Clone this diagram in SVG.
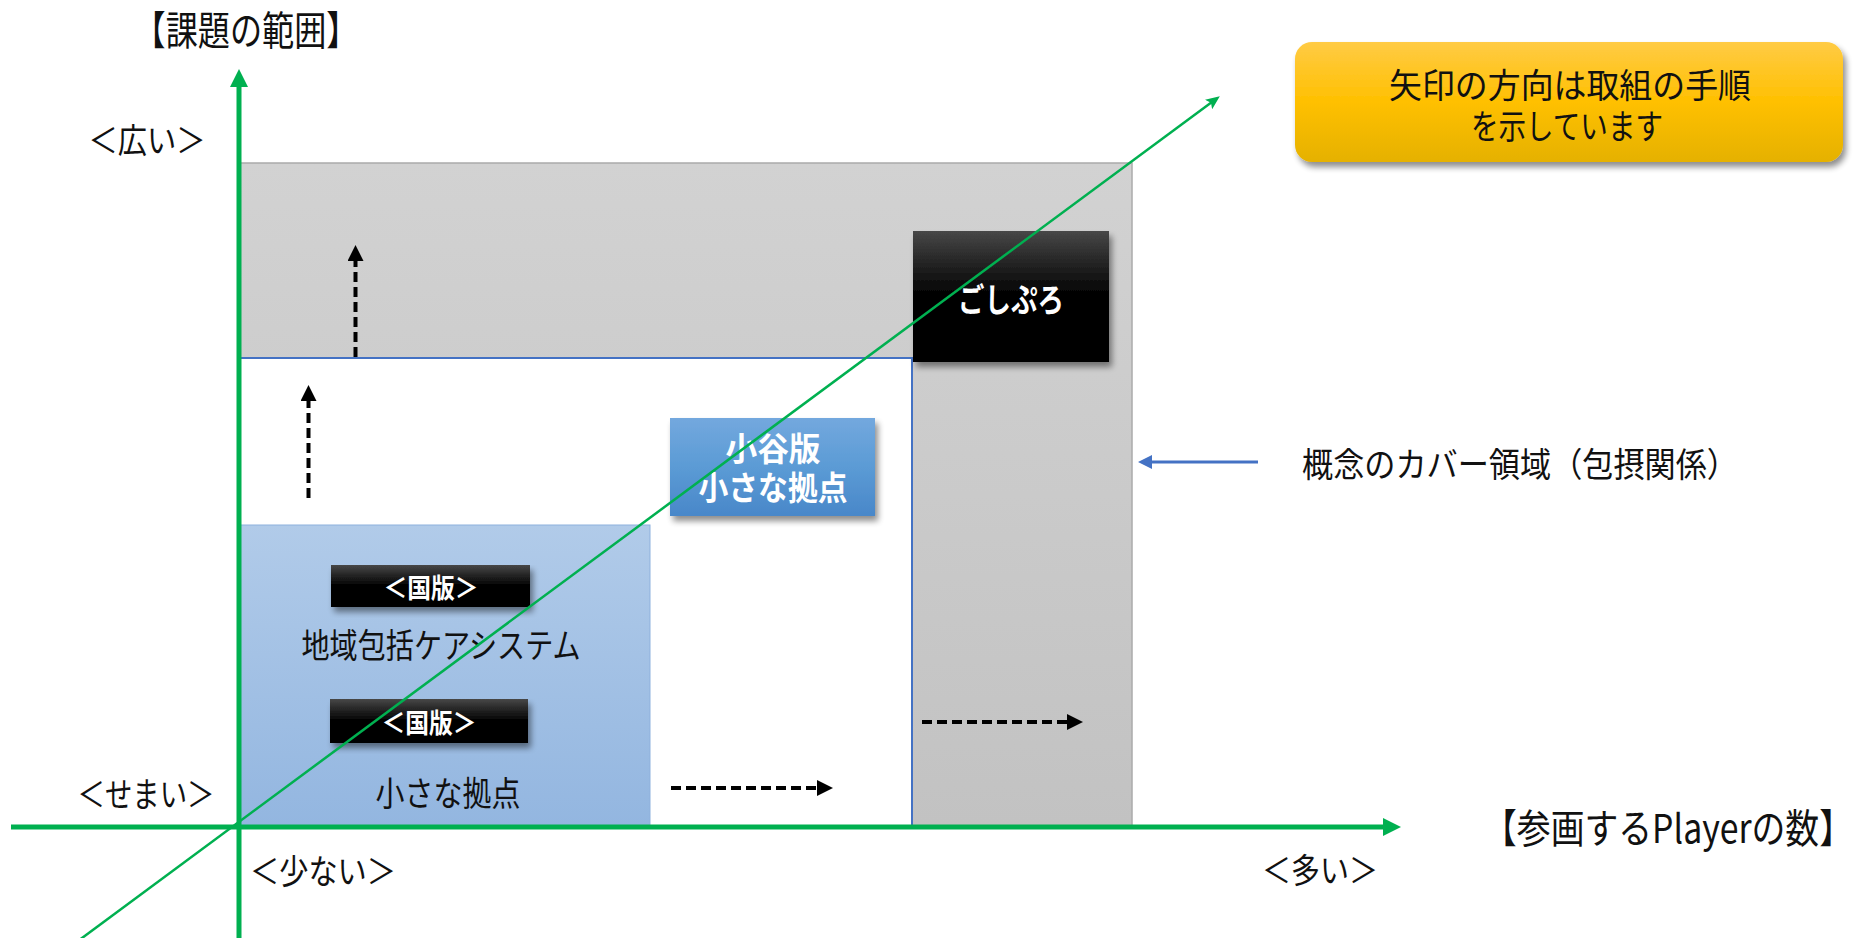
<svg xmlns="http://www.w3.org/2000/svg" width="1875" height="938" viewBox="0 0 1875 938">
  <style>
    text { font-family: "Noto Sans CJK JP", "Noto Sans", sans-serif; dominant-baseline: central; text-anchor: middle; }
    .lbl { fill: #111111; font-size: 34px; }
    .big { fill: #111111; font-size: 40px; }
    .wb { fill: #ffffff; font-weight: 700; }
    .axis { stroke: #00B050; stroke-width: 5; fill: none; }
    .diag { stroke: #00B050; stroke-width: 2.5; fill: none; }
    .dash { stroke: #000000; stroke-width: 4; stroke-dasharray: 10 5; fill: none; }
    .blue { stroke: #4472C4; stroke-width: 3; fill: none; }
  </style>
  <defs>
    <linearGradient id="gGray" x1="0" y1="0" x2="0" y2="1">
      <stop offset="0" stop-color="#D2D2D2"/>
      <stop offset="1" stop-color="#C2C2C2"/>
    </linearGradient>
    <linearGradient id="gLight" x1="0" y1="0" x2="0" y2="1">
      <stop offset="0" stop-color="#B1CBE9"/>
      <stop offset="1" stop-color="#93B6E0"/>
    </linearGradient>
    <linearGradient id="gBlack" x1="0" y1="0" x2="0" y2="1">
      <stop offset="0" stop-color="#474747"/>
      <stop offset="0.5" stop-color="#000000"/>
      <stop offset="1" stop-color="#000000"/>
    </linearGradient>
    <linearGradient id="gBlue" x1="0" y1="0" x2="0" y2="1">
      <stop offset="0" stop-color="#73A8DE"/>
      <stop offset="0.5" stop-color="#5B9BD5"/>
      <stop offset="1" stop-color="#4987C9"/>
    </linearGradient>
    <linearGradient id="gGold" x1="0" y1="0" x2="0" y2="1">
      <stop offset="0" stop-color="#FFCB45"/>
      <stop offset="0.5" stop-color="#FFC000"/>
      <stop offset="1" stop-color="#E5B100"/>
    </linearGradient>
    <filter id="shadow" x="-10%" y="-10%" width="125%" height="135%">
      <feGaussianBlur in="SourceAlpha" stdDeviation="3"/>
      <feOffset dx="3" dy="5" result="b"/>
      <feComponentTransfer><feFuncA type="linear" slope="0.45"/></feComponentTransfer>
      <feMerge><feMergeNode/><feMergeNode in="SourceGraphic"/></feMerge>
    </filter>
    <marker id="mAxis" viewBox="0 0 18 18" refX="8" refY="9" markerWidth="18" markerHeight="18" markerUnits="userSpaceOnUse" orient="auto">
      <path d="M0,0 L18,9 L0,18 z" fill="#00B050"/>
    </marker>
    <marker id="mDiag" viewBox="0 0 14 12" refX="8" refY="6" markerWidth="14" markerHeight="12" markerUnits="userSpaceOnUse" orient="auto">
      <path d="M0,0 L14,6 L0,12 L3,6 z" fill="#00B050"/>
    </marker>
    <marker id="mDash" viewBox="0 0 16 16" refX="6" refY="8" markerWidth="16" markerHeight="16" markerUnits="userSpaceOnUse" orient="auto">
      <path d="M0,0 L16,8 L0,16 z" fill="#000000"/>
    </marker>
    <marker id="mBlue" viewBox="0 0 14 14" refX="6" refY="7" markerWidth="14" markerHeight="14" markerUnits="userSpaceOnUse" orient="auto">
      <path d="M0,0 L14,7 L0,14 z" fill="#4472C4"/>
    </marker>
  </defs>

  <rect width="1875" height="938" fill="#ffffff"/>

  <g id="area-gray">
    <rect x="239" y="163" width="893" height="663" fill="url(#gGray)" stroke="#ABABAB" stroke-width="1.5"/>
  </g>
  <g id="area-white">
    <rect x="239" y="358" width="673" height="468" fill="#ffffff" stroke="#4472C4" stroke-width="2"/>
  </g>
  <g id="area-lightblue">
    <rect x="239" y="525" width="411" height="301" fill="url(#gLight)" stroke="#8EB1DD" stroke-width="1"/>
  </g>

  <g id="node-goshipro">
    <rect x="913" y="231" width="196" height="131" fill="url(#gBlack)" filter="url(#shadow)"/>
    <text class="wb" x="1011" y="298" font-size="33" textLength="106" lengthAdjust="spacingAndGlyphs">ごしぷろ</text>
  </g>
  <g id="node-otani">
    <rect x="670" y="418" width="205" height="98" fill="url(#gBlue)" filter="url(#shadow)"/>
    <text class="wb" x="773" y="447" font-size="33" textLength="95" lengthAdjust="spacingAndGlyphs">小谷版</text>
    <text class="wb" x="773" y="486" font-size="33" textLength="149" lengthAdjust="spacingAndGlyphs">小さな拠点</text>
  </g>
  <g id="node-kokuban1">
    <rect x="331" y="565" width="199" height="42" fill="url(#gBlack)" filter="url(#shadow)"/>
    <text class="wb" x="431" y="586" font-size="27" textLength="95" lengthAdjust="spacingAndGlyphs">＜国版＞</text>
  </g>
  <g id="node-chiiki">
    <text class="lbl" x="441" y="643" textLength="279" lengthAdjust="spacingAndGlyphs">地域包括ケアシステム</text>
  </g>
  <g id="node-kokuban2">
    <rect x="330" y="699" width="198" height="44" fill="url(#gBlack)" filter="url(#shadow)"/>
    <text class="wb" x="429" y="721" font-size="27" textLength="95" lengthAdjust="spacingAndGlyphs">＜国版＞</text>
  </g>
  <g id="node-chiisana">
    <text class="lbl" x="448" y="791" textLength="145" lengthAdjust="spacingAndGlyphs">小さな拠点</text>
  </g>

  <g id="node-callout">
    <rect x="1295" y="42" width="548" height="120" rx="17" fill="url(#gGold)" filter="url(#shadow)"/>
    <text x="1570" y="83" font-size="34" fill="#111111" textLength="362" lengthAdjust="spacingAndGlyphs">矢印の方向は取組の手順</text>
    <text x="1567" y="124" font-size="34" fill="#111111" textLength="192" lengthAdjust="spacingAndGlyphs">を示しています</text>
  </g>

  <g id="node-concept-label">
    <text class="lbl" x="1520" y="462" font-size="35" textLength="436" lengthAdjust="spacingAndGlyphs">概念のカバー領域（包摂関係）</text>
  </g>

  <g id="axis-labels">
    <text class="big" x="246" y="28" textLength="225" lengthAdjust="spacingAndGlyphs">【課題の範囲】</text>
    <text class="lbl" x="147" y="138" textLength="117" lengthAdjust="spacingAndGlyphs">＜広い＞</text>
    <text class="lbl" x="146" y="792" textLength="137" lengthAdjust="spacingAndGlyphs">＜せまい＞</text>
    <text class="lbl" x="323" y="869" textLength="146" lengthAdjust="spacingAndGlyphs">＜少ない＞</text>
    <text class="lbl" x="1320" y="868" textLength="116" lengthAdjust="spacingAndGlyphs">＜多い＞</text>
    <text class="big" x="1668" y="826" font-size="34" textLength="370" lengthAdjust="spacingAndGlyphs">【参画するPlayerの数】</text>
  </g>

  <g id="connectors">
    <line class="axis" x1="239" y1="938" x2="239" y2="79" marker-end="url(#mAxis)"/>
    <line class="axis" x1="11" y1="827" x2="1391" y2="827" marker-end="url(#mAxis)"/>
    <line class="diag" x1="80" y1="939.5" x2="1215" y2="99.7" marker-end="url(#mDiag)"/>
    <line class="dash" x1="308.5" y1="498" x2="308.5" y2="395" marker-end="url(#mDash)"/>
    <line class="dash" x1="355.5" y1="357" x2="355.5" y2="255" marker-end="url(#mDash)"/>
    <line class="dash" x1="671" y1="788" x2="823" y2="788" marker-end="url(#mDash)"/>
    <line class="dash" x1="922" y1="722" x2="1073" y2="722" marker-end="url(#mDash)"/>
    <line class="blue" x1="1258" y1="462" x2="1146" y2="462" marker-end="url(#mBlue)"/>
  </g>
</svg>
